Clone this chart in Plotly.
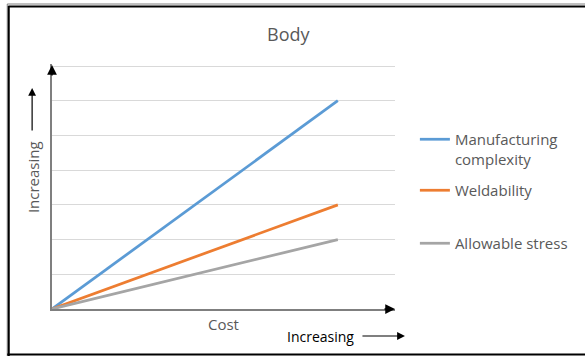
import plotly.graph_objects as go

# Chart data
series_names = ["Manufacturing<br>complexity", "Weldability", "Allowable stress"]
series_colors = ["#5B9BD5", "#ED7D31", "#A5A5A5"]
cost_levels = [0, 5]
series_values = [[0, 6], [0, 3], [0, 2]]
title_text = "Body"
x_label = "Cost"
trend_label = "Increasing"

W, H = 585, 356
# plot area in pixels (top edge sits 2px above the highest gridline)
L, R, T, B = 52, 397, 64, 309
GRID_TOP_PX = 66
Y_MAX = 7 * (B - T) / (B - GRID_TOP_PX)


def px(xp):
    return (xp - L) / (R - L)


def py(yp):
    return (B - yp) / (B - T)


fig = go.Figure()
legend_ids = ["legend", "legend2", "legend3"]
legend_tops = [139, 190, 243]
for name, color, vals, lid in zip(series_names, series_colors, series_values, legend_ids):
    fig.add_trace(go.Scatter(
        x=cost_levels, y=vals, mode="lines", name=name,
        line=dict(color=color, width=2.75), legend=lid,
    ))

legend_font = dict(family="Open Sans", size=15, color="#595959")
legend_layouts = {}
for lid, top in zip(legend_ids, legend_tops):
    legend_layouts[lid] = dict(
        x=px(417), y=py(top - 16), xanchor="left", yanchor="top",
        font=legend_font, bgcolor="rgba(0,0,0,0)", valign="top",
        itemwidth=30, tracegroupgap=0,
    )

annotations = [
    dict(text=title_text, xref="paper", yref="paper", x=px(290), y=py(34),
         showarrow=False, xanchor="center", yanchor="middle",
         font=dict(family="Open Sans", size=18, color="#595959")),
    dict(text=x_label, xref="paper", yref="paper", x=px(225), y=py(324),
         showarrow=False, xanchor="center", yanchor="middle",
         font=dict(family="Open Sans", size=15, color="#595959")),
    dict(text=trend_label, xref="paper", yref="paper", x=px(322), y=py(336),
         showarrow=False, xanchor="center", yanchor="middle",
         font=dict(family="Open Sans", size=14, color="#000000")),
    dict(text=trend_label, xref="paper", yref="paper", x=px(33), y=py(177),
         showarrow=False, xanchor="center", yanchor="middle", textangle=-90,
         font=dict(family="Open Sans", size=15, color="#595959")),
]

# arrowheads on the axes and the "increasing" pointers
arrow_common = dict(text="", showarrow=True, xref="paper", yref="paper",
                    arrowhead=2, arrowsize=1.3, arrowwidth=1.5,
                    arrowcolor="#000000", standoff=0)
annotations += [
    dict(x=px(397), y=py(309), ax=-12, ay=0, **arrow_common),
    dict(x=px(52), y=py(65), ax=0, ay=12, **arrow_common),
    dict(x=px(407), y=py(336), ax=-44, ay=0, **{**arrow_common, "arrowwidth": 1.2}),
    dict(x=px(32), y=py(88), ax=0, ay=44, **{**arrow_common, "arrowwidth": 1.2}),
]

# frame around the whole chart
shapes = [
    dict(type="line", xref="paper", yref="paper", x0=px(7), x1=px(600),
         y0=py(4), y1=py(4), line=dict(color="#808080", width=1)),
    dict(type="line", xref="paper", yref="paper", x0=px(8), x1=px(600),
         y0=py(6.5), y1=py(6.5), line=dict(color="#000000", width=2)),
    dict(type="line", xref="paper", yref="paper", x0=px(7), x1=px(7),
         y0=py(4), y1=py(356), line=dict(color="#808080", width=1)),
    dict(type="line", xref="paper", yref="paper", x0=px(8.5), x1=px(8.5),
         y0=py(6), y1=py(356), line=dict(color="#000000", width=2)),
    dict(type="line", xref="paper", yref="paper", x0=px(7), x1=px(600),
         y0=py(354.5), y1=py(354.5), line=dict(color="#000000", width=2)),
]

fig.update_layout(
    width=W, height=H,
    margin=dict(l=L, r=W - R, t=T, b=H - B, pad=0),
    paper_bgcolor="#ffffff", plot_bgcolor="#ffffff",
    showlegend=True,
    annotations=annotations, shapes=shapes,
    **legend_layouts,
)
fig.update_xaxes(range=[0, 6], showgrid=False, zeroline=False, showticklabels=False,
                 ticks="", showline=True, linecolor="#7F7F7F", linewidth=1.5, fixedrange=True)
fig.update_yaxes(range=[0, Y_MAX], tick0=0, dtick=1, showgrid=True, gridcolor="#D9D9D9",
                 gridwidth=1, zeroline=False, showticklabels=False, ticks="", showline=True,
                 linecolor="#7F7F7F", linewidth=1.5, fixedrange=True)

fig.write_html("out.html")
